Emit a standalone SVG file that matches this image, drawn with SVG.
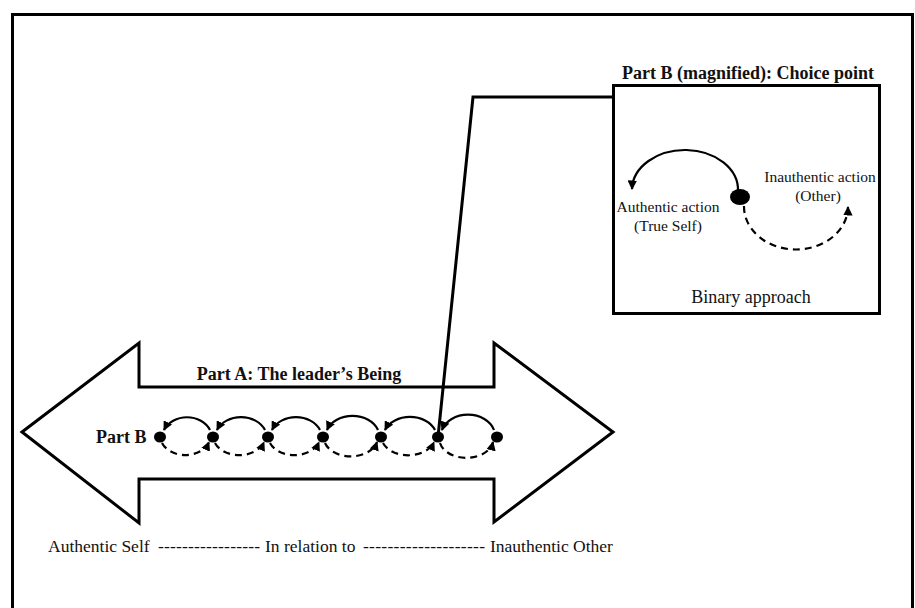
<svg xmlns="http://www.w3.org/2000/svg" width="915" height="608" viewBox="0 0 915 608">
<defs>
<style>
text{font-family:'Liberation Serif','Times New Roman','DejaVu Serif',serif;fill:#111;font-size:18px}
.b{font-weight:bold}
.sm{font-size:15.5px}
.solid{fill:none;stroke:#000;stroke-width:2.2}
.dash{fill:none;stroke:#000;stroke-width:2.2;stroke-dasharray:7 5}
.thick{fill:none;stroke:#000;stroke-width:3}
</style>
<marker id="ah" viewBox="0 0 10 10" refX="9" refY="5" markerWidth="4.3" markerHeight="4.3" orient="auto" markerUnits="strokeWidth">
<path d="M0,0 L10,5 L0,10 z" fill="#000"/>
</marker>
</defs>
<rect width="915" height="608" fill="#fff"/>
<rect id="frame" x="12.5" y="14.5" width="900" height="600" fill="none" stroke="#000" stroke-width="3"/>

<g id="partA">
<polygon points="22,432 139,343 139,387 494,387 494,343 613,432 494,522 494,479 139,479 139,523" fill="#fff" stroke="#000" stroke-width="3" stroke-linejoin="miter"/>
<text class="b" x="299" y="380" text-anchor="middle" font-family="Liberation Serif, DejaVu Serif, serif">Part A: The leader’s Being</text>
<text class="b" x="96" y="443" font-family="Liberation Serif, DejaVu Serif, serif">Part B</text>
</g>

<g id="dots">
<ellipse cx="160" cy="437" rx="6" ry="5.5"/>
<ellipse cx="213" cy="437" rx="6" ry="5.5"/>
<ellipse cx="268" cy="437" rx="6" ry="5.5"/>
<ellipse cx="323" cy="437" rx="6" ry="5.5"/>
<ellipse cx="381" cy="437" rx="6" ry="5.5"/>
<ellipse cx="438" cy="437" rx="6" ry="5.5"/>
<ellipse cx="497" cy="437" rx="6" ry="5.5"/>
</g>

<g id="connectors">
<path class="solid" marker-end="url(#ah)" d="M210,430 A25 21 0 0 0 164,430"/>
<path class="solid" marker-end="url(#ah)" d="M265,430 A26 21 0 0 0 217,430"/>
<path class="solid" marker-end="url(#ah)" d="M320,430 A26 21 0 0 0 272,430"/>
<path class="solid" marker-end="url(#ah)" d="M378,430 A27 21 0 0 0 327,430"/>
<path class="solid" marker-end="url(#ah)" d="M435,430 A27 21 0 0 0 385,430"/>
<path class="solid" marker-end="url(#ah)" d="M494,430 A27 21 0 0 0 442,430"/>

<path class="dash" marker-end="url(#ah)" d="M162,443 A25 19 0 0 0 209,442"/>
<path class="dash" marker-end="url(#ah)" d="M215,443 A26 19 0 0 0 264,442"/>
<path class="dash" marker-end="url(#ah)" d="M270,443 A26 19 0 0 0 319,442"/>
<path class="dash" marker-end="url(#ah)" d="M325,443 A27 19 0 0 0 377,442"/>
<path class="dash" marker-end="url(#ah)" d="M383,443 A27 19 0 0 0 434,442"/>
<path class="dash" marker-end="url(#ah)" d="M440,443 A27 19 0 0 0 493,442"/>

<polyline class="thick" points="438,437 473,97 613,97"/>

<path class="solid" marker-end="url(#ah)" d="M738,191 A53 40 0 0 0 632,189"/>
<path class="dash" marker-end="url(#ah)" d="M744,206 A52 43 0 0 0 848,207"/>
</g>

<g id="partB">
<rect x="613.5" y="85.5" width="266" height="228" fill="none" stroke="#000" stroke-width="3"/>
<text class="b" x="748" y="79" text-anchor="middle" font-family="Liberation Serif, DejaVu Serif, serif">Part B (magnified): Choice point</text>
<ellipse cx="740" cy="197" rx="10" ry="8"/>
<text class="sm" x="820" y="182" text-anchor="middle" font-family="Liberation Serif, DejaVu Serif, serif">Inauthentic action</text>
<text class="sm" x="818" y="201" text-anchor="middle" font-family="Liberation Serif, DejaVu Serif, serif">(Other)</text>
<text class="sm" x="668" y="212" text-anchor="middle" font-family="Liberation Serif, DejaVu Serif, serif">Authentic action</text>
<text class="sm" x="668" y="231" text-anchor="middle" font-family="Liberation Serif, DejaVu Serif, serif">(True Self)</text>
<text x="751" y="303" text-anchor="middle" font-family="Liberation Serif, DejaVu Serif, serif">Binary approach</text>
</g>

<g id="bottom" font-family="Liberation Serif, DejaVu Serif, serif" style="font-size:17.5px">
<text x="48" y="552" style="font-size:17.5px">Authentic Self</text>
<text x="158" y="552" style="font-size:17.5px" textLength="102" lengthAdjust="spacing">-----------------</text>
<text x="265" y="552" style="font-size:17.5px">In relation to</text>
<text x="363" y="552" style="font-size:17.5px" textLength="122" lengthAdjust="spacing">--------------------</text>
<text x="490" y="552" style="font-size:17.5px">Inauthentic Other</text>
</g>
</svg>
